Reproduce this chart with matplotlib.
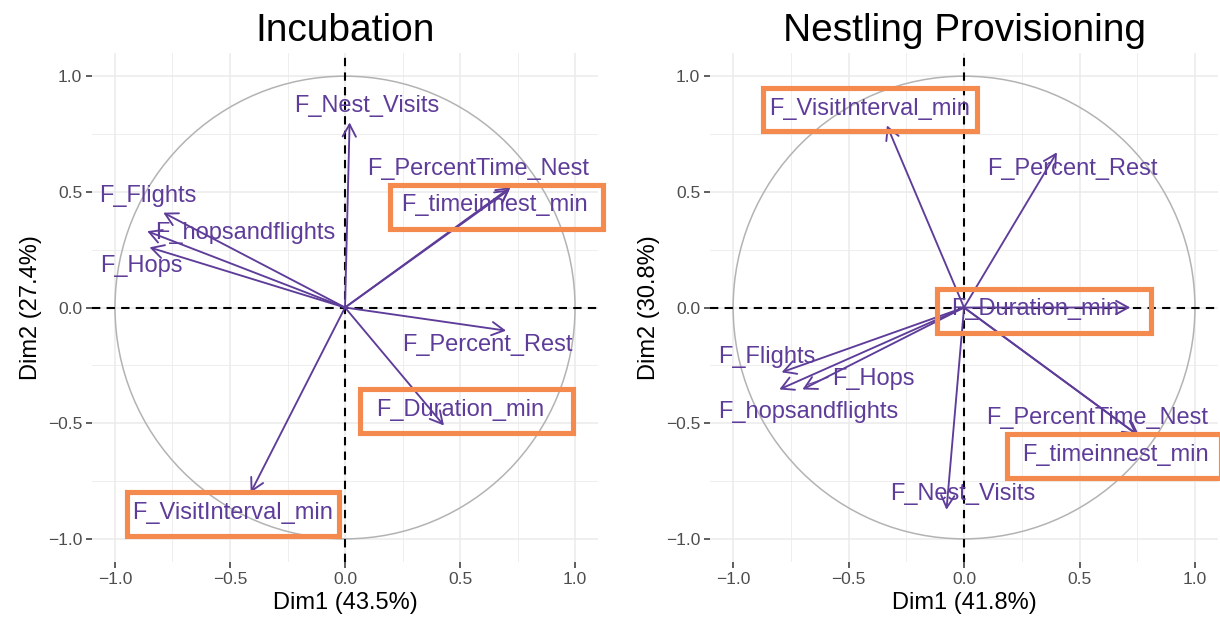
import matplotlib
matplotlib.use("Agg")
import matplotlib.pyplot as plt
from matplotlib.patches import Circle, Rectangle
from matplotlib.ticker import MultipleLocator

plt.rcParams['font.family'] = ['Liberation Sans', 'DejaVu Sans']

# ---------------- data ----------------
inc_title = "Incubation"
inc_xlabel = "Dim1 (43.5%)"
inc_ylabel = "Dim2 (27.4%)"
inc_vars = ["F_Nest_Visits", "F_PercentTime_Nest", "F_timeinnest_min", "F_Flights",
            "F_hopsandflights", "F_Hops", "F_Percent_Rest", "F_Duration_min",
            "F_VisitInterval_min"]
inc_x = [0.02, 0.72, 0.715, -0.79, -0.86, -0.85, 0.70, 0.43, -0.41]
inc_y = [0.80, 0.52, 0.51, 0.41, 0.33, 0.26, -0.10, -0.51, -0.80]
inc_lab_x = [0.095, 0.58, 0.65, -0.857, -0.433, -0.887, 0.62, 0.50, -0.487]
inc_lab_y = [0.873, 0.597, 0.445, 0.48, 0.321, 0.18, -0.164, -0.442, -0.888]
inc_boxed = ["F_timeinnest_min", "F_Duration_min", "F_VisitInterval_min"]
inc_box_x = [0.659, 0.528, -0.487]
inc_box_y = [0.436, -0.449, -0.892]

nes_title = "Nestling Provisioning"
nes_xlabel = "Dim1 (41.8%)"
nes_ylabel = "Dim2 (30.8%)"
nes_vars = ["F_VisitInterval_min", "F_Percent_Rest", "F_Duration_min", "F_Flights",
            "F_Hops", "F_hopsandflights", "F_PercentTime_Nest", "F_timeinnest_min",
            "F_Nest_Visits"]
nes_x = [-0.334, 0.402, 0.72, -0.79, -0.70, -0.80, 0.76, 0.75, -0.076]
nes_y = [0.787, 0.671, 0.0, -0.28, -0.354, -0.354, -0.557, -0.55, -0.874]
nes_lab_x = [-0.409, 0.47, 0.31, -0.856, -0.392, -0.676, 0.578, 0.655, -0.005]
nes_lab_y = [0.856, 0.60, -0.006, -0.216, -0.309, -0.45, -0.477, -0.639, -0.805]
nes_boxed = ["F_VisitInterval_min", "F_Duration_min", "F_timeinnest_min"]
nes_box_x = [-0.407, 0.346, 0.649]
nes_box_y = [0.856, -0.016, -0.641]
# repel segment (label -> arrow) for F_Hops in the right panel
nes_seg_var = "F_Hops"
nes_seg_start = (-0.589, -0.302)

ticks = [-1.0, -0.5, 0.0, 0.5, 1.0]
tick_labels = ["\u22121.0", "\u22120.5", "0.0", "0.5", "1.0"]

# ---------------- style ----------------
PURPLE = "#5E3C99"
ORANGE = "#F58A4E"
CIRCLE = "#B3B3B3"
GRID = "#EBEBEB"
BOX_W = 0.925
BOX_H = 0.19

fig = plt.figure(figsize=(12.2, 6.21), dpi=100)
ax1 = fig.add_axes([0.0754, 0.095, 0.4148, 0.8196])
ax2 = fig.add_axes([0.582, 0.095, 0.4164, 0.8196])


def draw_panel(ax, title, xlabel, ylabel, names, xs, ys, lx, ly, bx, by):
    ax.set_xlim(-1.1, 1.1)
    ax.set_ylim(-1.1, 1.1)
    for s in ax.spines.values():
        s.set_visible(False)
    ax.set_axisbelow(True)
    ax.xaxis.set_minor_locator(MultipleLocator(0.25))
    ax.yaxis.set_minor_locator(MultipleLocator(0.25))
    ax.grid(which="major", color=GRID, lw=1.1)
    ax.grid(which="minor", color=GRID, lw=0.6)
    ax.tick_params(which="minor", length=0)
    ax.tick_params(which="major", length=4, width=1.1, color="#333333",
                   labelcolor="#4D4D4D", labelsize=12.5, pad=3)
    ax.set_xticks(ticks)
    ax.set_xticklabels(tick_labels)
    ax.set_yticks(ticks)
    ax.set_yticklabels(tick_labels)

    ax.add_patch(Circle((0, 0), 1.0, fill=False, ec=CIRCLE, lw=1.1, zorder=1))
    ax.axhline(0, color="black", ls=(0, (4, 3)), lw=1.5, zorder=2)
    ax.axvline(0, color="black", ls=(0, (4, 3)), lw=1.5, zorder=2)

    for n, x, y in zip(names, xs, ys):
        ax.annotate("", xy=(x, y), xytext=(0, 0),
                    arrowprops=dict(arrowstyle="->,head_length=0.55,head_width=0.3",
                                    color=PURPLE, lw=1.35, shrinkA=0, shrinkB=0,
                                    mutation_scale=16),
                    zorder=3)
    for n, x, y in zip(names, lx, ly):
        ax.text(x, y, n, color=PURPLE, fontsize=17, ha="center", va="center",
                zorder=4, clip_on=False)
    for cx, cy in zip(bx, by):
        ax.add_patch(Rectangle((cx - BOX_W / 2, cy - BOX_H / 2), BOX_W, BOX_H,
                               fill=False, ec=ORANGE, lw=3.7, zorder=5,
                               clip_on=False, joinstyle="miter"))

    ax.set_title(title, fontsize=28, pad=9)
    ax.set_xlabel(xlabel, fontsize=17, labelpad=4)
    ax.set_ylabel(ylabel, fontsize=17, labelpad=4)


draw_panel(ax1, inc_title, inc_xlabel, inc_ylabel, inc_vars, inc_x, inc_y,
           inc_lab_x, inc_lab_y, inc_box_x, inc_box_y)
draw_panel(ax2, nes_title, nes_xlabel, nes_ylabel, nes_vars, nes_x, nes_y,
           nes_lab_x, nes_lab_y, nes_box_x, nes_box_y)

i = nes_vars.index(nes_seg_var)
ax2.plot([nes_seg_start[0], nes_x[i] + 0.02], [nes_seg_start[1], nes_y[i] + 0.02],
         color=PURPLE, lw=0.8, zorder=3)

fig.savefig("out.png", dpi=100)
